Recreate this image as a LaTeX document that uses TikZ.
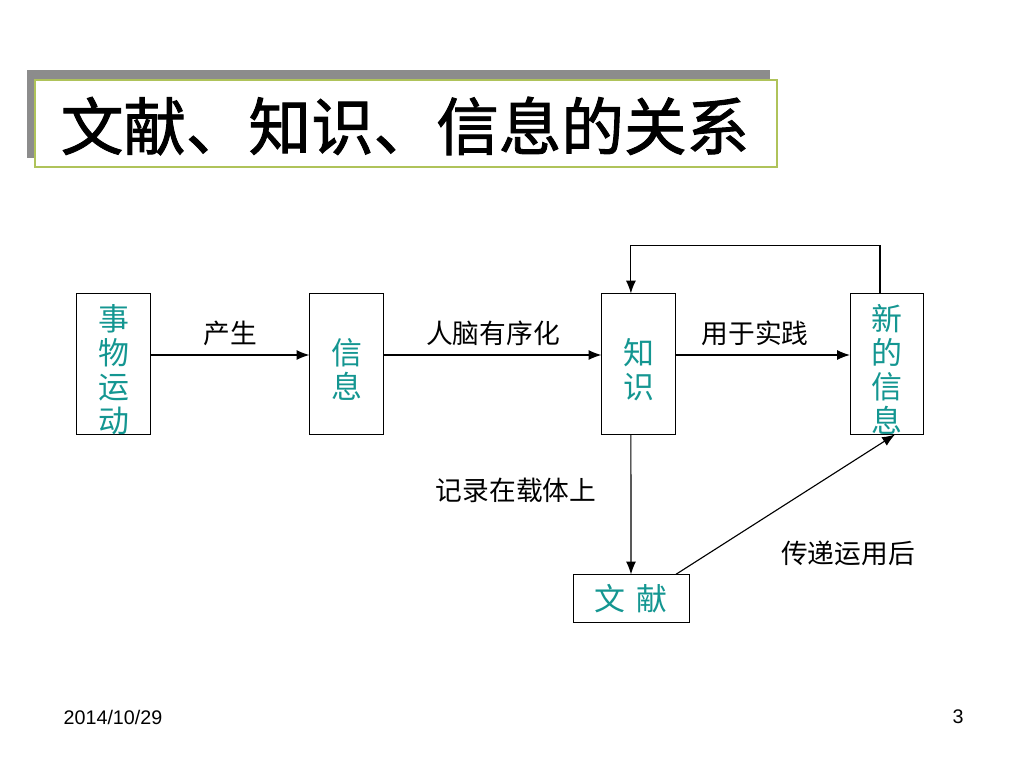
\documentclass[tikz,border=0pt]{standalone}
\usepackage{fontspec}
\setmainfont{Liberation Sans}
\newfontfamily\cjk{Noto Sans CJK SC}
\newfontfamily\cjkbold{Noto Sans CJK SC}[FakeBold=1.5]
\usetikzlibrary{arrows.meta,positioning}
\definecolor{boxtext}{RGB}{20,150,145}
\definecolor{titleline}{RGB}{175,195,90}
\definecolor{shadowgray}{RGB}{140,140,140}
\tikzset{
  stagebox/.style={draw,line width=0.7pt,minimum width=1.83cm,minimum height=3.5cm,inner xsep=0pt,inner ysep=-0.3cm,
    align=center,text=boxtext,font=\cjk\fontsize{22}{24.3}\selectfont},
  edgelabel/.style={font=\cjk\fontsize{19}{20}\selectfont},
  flow/.style={-{Latex[length=3.2mm,width=2.5mm]},line width=0.8pt}
}

\begin{document}
\begin{tikzpicture}[x=0.025cm,y=-0.025cm]
\useasboundingbox (0,0) rectangle (1024,768);

% title with shadow
\fill [shadowgray] (27,70) rectangle (770,158);
\draw [titleline,fill=white,line width=1pt] (35,80) rectangle (777,167);
\node (title) at (405,126) {\cjkbold\fontsize{44.5}{46}\selectfont 文献、知识、信息的关系};

\node [stagebox] (wu) at (113.5,364) {\rule{0pt}{1.2em}事\\物\\运\\动};
\node [stagebox] (xx) at (346.5,364) {\rule{0pt}{1.2em}信\\息};
\node [stagebox] (zs) at (638.5,364) {\rule{0pt}{1.2em}知\\识};
\node [stagebox] (xxx) at (887,364) {\rule{0pt}{1.2em}新\\的\\信\\息};
\node [stagebox,minimum width=2.9cm,minimum height=1.18cm] (wx) at (631,598.5) {文\hspace{0.35em}献};

\draw [flow] ([yshift=0.225cm]wu.east) -- ([yshift=0.225cm]xx.west);
\draw [flow] ([yshift=0.225cm]xx.east) -- ([yshift=0.225cm]zs.west);
\draw [flow] ([yshift=0.225cm]zs.east) -- ([yshift=0.225cm]xxx.west);
\draw [flow] ([xshift=-0.175cm]xxx.north) -- ++(0,-48) -| ([xshift=-0.19cm]zs.north);
\draw [flow] ([xshift=-0.19cm]zs.south) -- (wx.north);
\draw [flow] ([xshift=1.12cm]wx.north) -- ([xshift=0.2cm]xxx.south);

\node [edgelabel] (l1) at (230,333) {产生};
\node [edgelabel] (l2) at (493,333) {人脑有序化};
\node [edgelabel] (l3) at (755,333) {用于实践};
\node [edgelabel] (l4) at (516,490) {记录在载体上};
\node [edgelabel] (l5) at (848,553) {传递运用后};

% footer
\node (date) at (113,717) {\fontsize{14}{16}\selectfont 2014/10/29};
\node (page) at (958,717) {\fontsize{14}{16}\selectfont 3};

\end{tikzpicture}
\end{document}
